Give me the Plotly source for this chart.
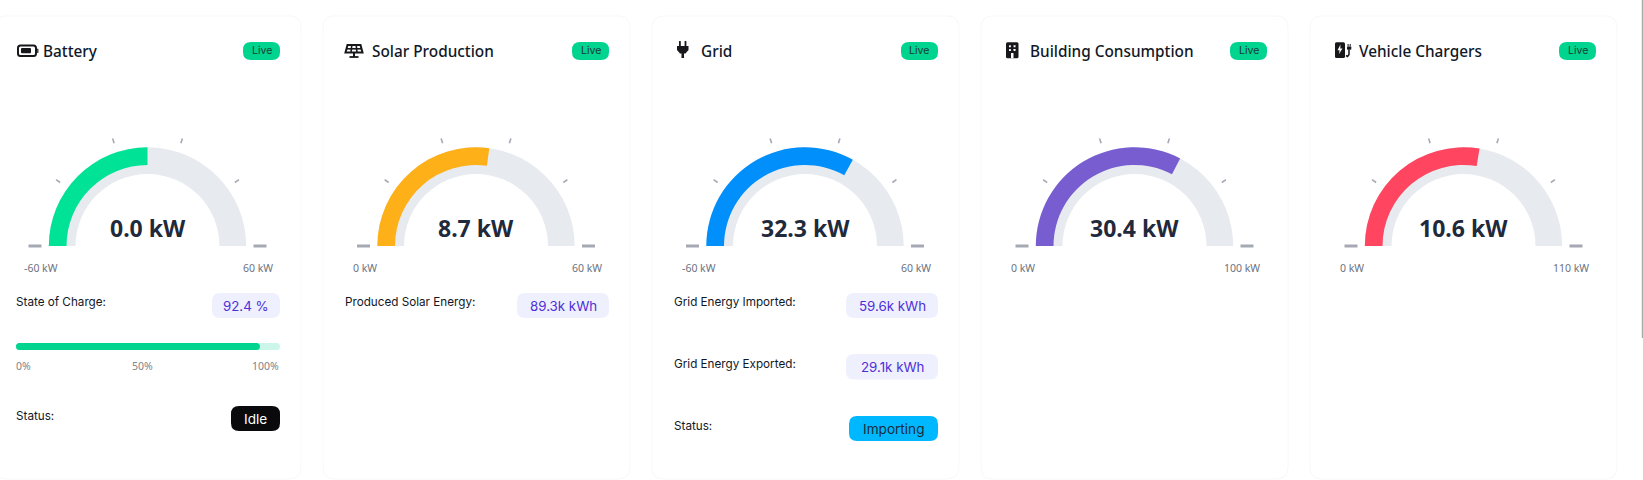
import math
import plotly.graph_objects as go

W, H = 1643, 480

# ---- data ----
titles = ["Battery", "Solar Production", "Grid", "Building Consumption", "Vehicle Chargers"]
gauge_labels = ["0.0 kW", "8.7 kW", "32.3 kW", "30.4 kW", "10.6 kW"]
min_labels = ["-60 kW", "0 kW", "-60 kW", "0 kW", "0 kW"]
max_labels = ["60 kW", "60 kW", "60 kW", "100 kW", "110 kW"]
arc_fractions = [0.50, 0.543, 0.661, 0.653, 0.552]
arc_colors = ["#00E396", "#FEB019", "#008FFB", "#775DD0", "#FF4560"]
tick_angles = [0, 36, 72, 108, 144, 180]

soc_value = 92.4
soc_scale = ["0%", "50%", "100%"]
row_labels = [
    (0, "State of Charge:", 302.3),
    (1, "Produced Solar Energy:", 302.3),
    (2, "Grid Energy Imported:", 302.3),
    (2, "Grid Energy Exported:", 363.8),
    (0, "Status:", 415.8),
    (2, "Status:", 425.8),
]
value_pills = [
    (0, "92.4 %", 212, 293, 318),
    (1, "89.3k kWh", 517, 293, 318),
    (2, "59.6k kWh", 846, 293, 318),
    (2, "29.1k kWh", 846, 354, 379.5),
]
status_pills = [
    (0, "Idle", 231, 406, 431, "#0A0A0C", "#FFFFFF"),
    (2, "Importing", 849, 416, 441, "#00B8FF", "#1B2B3A"),
]

# ---- layout constants ----
CARD_W, CARD_STEP, CARD_X0 = 307, 329, -6
CARD_TOP, CARD_BOTTOM = 16, 479
GAUGE_CX = [147.5, 476, 805, 1134.5, 1463.5]
GAUGE_CY = 246
R_OUT, R_TRACK, R_ARC = 98.7, 72, 81
TEXT_DARK = "#111827"
VALUE_DARK = "#1F2A3C"
GREY = "#6B7280"
SCALE_GREY = "#7F838B"
TICK = "#A5A9B4"
SANS = "Noto Sans"
UI = "Inter"


def px(x):
    return x / W


def py(y):
    return 1 - y / H


def P(x, y):
    return f"{px(x):.6f},{py(y):.6f}"


def rr(x0, y0, x1, y1, r):
    return (
        f"M{P(x0 + r, y0)} L{P(x1 - r, y0)} Q{P(x1, y0)} {P(x1, y0 + r)} "
        f"L{P(x1, y1 - r)} Q{P(x1, y1)} {P(x1 - r, y1)} L{P(x0 + r, y1)} "
        f"Q{P(x0, y1)} {P(x0, y1 - r)} L{P(x0, y0 + r)} Q{P(x0, y0)} {P(x0 + r, y0)} Z"
    )


def poly(pts, close=True):
    s = "M" + " L".join(P(a, b) for a, b in pts)
    return s + (" Z" if close else "")


shapes = []
annotations = []


def add_path(path, fill=None, line=None, width=0, layer="below"):
    shapes.append(dict(
        type="path", xref="paper", yref="paper", path=path, layer=layer,
        fillcolor=fill if fill else "rgba(0,0,0,0)",
        line=dict(color=line if line else "rgba(0,0,0,0)", width=width),
    ))


def add_text(x, y, text, size, color, anchor="left", family=UI, weight=400):
    annotations.append(dict(
        xref="paper", yref="paper", x=px(x), y=py(y), text=text, showarrow=False,
        xanchor=anchor, yanchor="middle", borderpad=0,
        font=dict(family=family, size=size, color=color, weight=weight),
    ))


fig = go.Figure()

# cards and headers
for i, title in enumerate(titles):
    x0 = CARD_X0 + i * CARD_STEP
    add_path(rr(x0, CARD_TOP, x0 + CARD_W, CARD_BOTTOM, 12), fill="#FFFFFF", line="#F8F8F9", width=1)
    add_text(x0 + 47.5, 50.5, title, 15.35, TEXT_DARK, family=SANS, weight=500)
    add_path(rr(x0 + CARD_W - 58, 42, x0 + CARD_W - 21, 60, 8), fill="#00D48F")
    add_text(x0 + CARD_W - 39.5, 51, "Live", 10.5, "#1B3A36", anchor="center")

# gauges
for i, cx in enumerate(GAUGE_CX):
    frac = arc_fractions[i]
    dom = dict(x=[px(cx - R_OUT), px(cx + R_OUT)],
               y=[py(GAUGE_CY + R_OUT), py(GAUGE_CY - R_OUT)])
    fig.add_trace(go.Pie(
        values=[1, 1], marker=dict(colors=["#E7EAEF", "rgba(0,0,0,0)"], line=dict(width=0)),
        hole=R_TRACK / R_OUT, domain=dom, sort=False, direction="clockwise", rotation=-90,
        textinfo="none", hoverinfo="skip", showlegend=False,
    ))
    fig.add_trace(go.Pie(
        values=[frac, 1 - frac, 1],
        marker=dict(colors=[arc_colors[i], "rgba(0,0,0,0)", "rgba(0,0,0,0)"], line=dict(width=0)),
        hole=R_ARC / R_OUT, domain=dom, sort=False, direction="clockwise", rotation=-90,
        textinfo="none", hoverinfo="skip", showlegend=False,
    ))
    for a in tick_angles:
        flat = a in (0, 180)
        r0, r1 = (106, 119) if flat else (108, 113)
        ca, sa = math.cos(math.radians(a)), math.sin(math.radians(a))
        add_path(poly([(cx - r0 * ca, GAUGE_CY - r0 * sa), (cx - r1 * ca, GAUGE_CY - r1 * sa)], close=False),
                 line=TICK, width=3 if flat else 1.6)
    add_text(cx, 228.3, gauge_labels[i], 23, VALUE_DARK, anchor="center", family=SANS, weight=700)
    x0 = CARD_X0 + i * CARD_STEP
    add_text(x0 + 28.5, 268, min_labels[i], 10.5, GREY, family=SANS)
    add_text(x0 + CARD_W - 27.5, 268, max_labels[i], 10.5, GREY, anchor="right", family=SANS)

# info rows
for card, text, y in row_labels:
    add_text(CARD_X0 + card * CARD_STEP + 20.5, y, text, 11.7, TEXT_DARK)
for card, text, xl, y0, y1 in value_pills:
    xr = CARD_X0 + card * CARD_STEP + CARD_W - 21
    add_path(rr(xl, y0, xr, y1, 8), fill="#EEF0FD")
    add_text((xl + xr) / 2, (y0 + y1) / 2, text, 13.3, "#4F2FD8", anchor="center")
for card, text, xl, y0, y1, fill, col in status_pills:
    xr = CARD_X0 + card * CARD_STEP + CARD_W - 21
    add_path(rr(xl, y0, xr, y1, 8), fill=fill)
    add_text((xl + xr) / 2, (y0 + y1) / 2, text, 13.6, col, anchor="center")

# state-of-charge bar
BAR_L, BAR_R = 16, 280
add_path(rr(BAR_L, 343, BAR_R, 350, 3.5), fill="#CCF6E9")
add_path(rr(BAR_L, 343, BAR_L + (BAR_R - BAR_L) * soc_value / 100, 350, 3.5), fill="#00D48F")
add_text(BAR_L - 0.8, 366, soc_scale[0], 10.5, SCALE_GREY, family=SANS)
add_text(142, 366, soc_scale[1], 10.5, SCALE_GREY, anchor="center", family=SANS)
add_text(BAR_R, 366, soc_scale[2], 10.5, SCALE_GREY, anchor="right", family=SANS)

# icons
INK = "#17171C"
# battery
add_path(rr(18, 45.5, 36, 56, 2.5), line=INK, width=2)
add_path(rr(21, 48, 31, 53.3, 1), fill=INK)
add_path(rr(37.2, 48.5, 38.4, 53, 0.5), fill=INK)
# solar panel
add_path(poly([(347.5, 45), (360.5, 45), (362.5, 52.5), (345.5, 52.5)]), line=INK, width=2)
add_path(poly([(346.5, 48.8), (361.5, 48.8)], close=False), line=INK, width=1.6)
add_path(poly([(351.8, 45), (351, 52.5)], close=False), line=INK, width=1.6)
add_path(poly([(356.2, 45), (357, 52.5)], close=False), line=INK, width=1.6)
add_path(poly([(354, 52.5), (354, 57)], close=False), line=INK, width=2)
add_path(poly([(349.5, 57), (358.5, 57)], close=False), line=INK, width=1.8)
# plug
add_path(rr(679, 41, 680.8, 47, 0.6), fill=INK)
add_path(rr(684.6, 41, 686.4, 47, 0.6), fill=INK)
add_path(poly([(677, 46), (688.5, 46), (688.5, 50), (685.5, 53.5), (684, 53.5), (684, 58),
               (681.5, 58), (681.5, 53.5), (680, 53.5), (677, 50)]), fill=INK)
# building
add_path(rr(1006, 42.3, 1018.5, 58.3, 1.5), fill=INK)
for wy in (45.2, 49):
    for wx in (1009, 1013.6):
        add_path(rr(wx, wy, wx + 1.9, wy + 2, 0.2), fill="#FFFFFF")
add_path(rr(1011, 53, 1013.5, 58.3, 0.3), fill="#FFFFFF")
# vehicle charger
add_path(rr(1335, 42.3, 1345, 58, 1.5), fill=INK)
add_path(poly([(1340.5, 44.5), (1337.5, 50.2), (1339.6, 50.2), (1339, 54), (1342.5, 48.4), (1340.3, 48.4)]),
         fill="#FFFFFF")
add_path(poly([(1349, 49.5), (1349, 54.5), (1347.6, 56.5), (1346, 55.5)], close=False), line=INK, width=1.5)
add_path(rr(1347, 46.5, 1351.3, 49.8, 0.8), fill=INK)
add_path(poly([(1348.1, 44), (1348.1, 46.5)], close=False), line=INK, width=1)
add_path(poly([(1350.2, 44), (1350.2, 46.5)], close=False), line=INK, width=1)

# page scrollbar edge
add_path(poly([(1641.8, 0), (1643, 0), (1643, 338), (1641.8, 338)]), fill="#A8A8A8")

fig.update_layout(
    width=W, height=H, margin=dict(l=0, r=0, t=0, b=0),
    paper_bgcolor="#FFFFFF", plot_bgcolor="#FFFFFF",
    shapes=shapes, annotations=annotations, showlegend=False,
)

fig.write_html(
    "out.html",
    config=dict(displayModeBar=False),
    post_script="document.body.style.margin='0';document.body.style.overflow='hidden';",
)
